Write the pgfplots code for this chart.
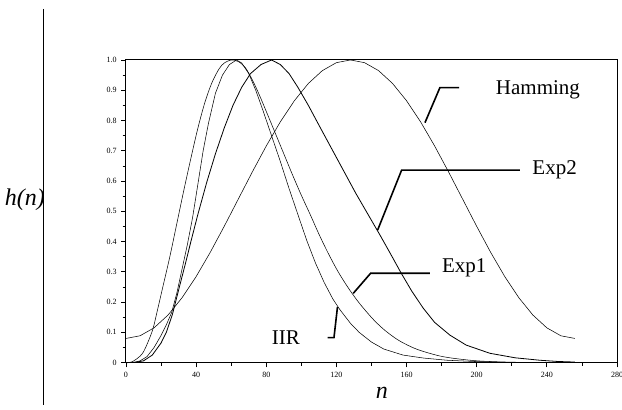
\documentclass[border=0pt]{standalone}
\usepackage{fontspec}
\setmainfont{Liberation Serif}
\usepackage{pgfplots}
\pgfplotsset{compat=1.18}
\begin{document}
\begin{tikzpicture}
\begin{axis}[
  scale only axis, width=368.25pt, height=227pt,
  xmin=0, xmax=280, ymin=0, ymax=1,
  xtick={0,40,80,120,160,200,240,280}, minor x tick num=1,
  ytick={0,0.1,0.2,0.3,0.4,0.5,0.6,0.7,0.8,0.9,1},
  yticklabels={0,0.1,0.2,0.3,0.4,0.5,0.6,0.7,0.8,0.9,1.0},
  minor y tick num=1,
  tick align=outside, xtick pos=left, ytick pos=left,
  major tick length=3.5pt, minor tick length=2.5pt,
  tick style={black, line width=0.6pt},
  ticklabel style={font=\fontsize{6}{7}\selectfont},
  /pgf/number format/assume math mode=true,
  axis line style={line width=0.75pt},
  clip=false,
  cycle list={{black, line width=0.6pt, smooth, no markers}},
]
% Hamming
\addplot coordinates {(0,0.08) (8,0.0888) (16,0.1150) (24,0.1575) (32,0.2147) (40,0.2844) (48,0.3640) (56,0.4503) (64,0.54) (72,0.6297) (80,0.7160) (88,0.7956) (96,0.8653) (104,0.9225) (112,0.9650) (120,0.9912) (128,1.0) (136,0.9912) (144,0.9650) (152,0.9225) (160,0.8653) (168,0.7956) (176,0.7160) (184,0.6297) (192,0.54) (200,0.4503) (208,0.3640) (216,0.2844) (224,0.2147) (232,0.1575) (240,0.1150) (248,0.0888) (256,0.08)};
% Exp2
\addplot coordinates {(0,0) (5,0.001) (10,0.006) (15,0.025) (20,0.065) (23,0.10) (26.5,0.16) (30,0.24) (34,0.33) (37,0.40) (41,0.49) (46,0.595) (51,0.69) (56,0.775) (61,0.85) (66,0.91) (71,0.955) (77,0.985) (83,1.0) (88,0.985) (93,0.955) (98,0.91) (104,0.85) (110,0.785) (117,0.71) (124,0.635) (131,0.56) (138,0.49) (145,0.42) (151,0.358) (157,0.295) (163,0.236) (169.5,0.18) (176,0.133) (184.7,0.091) (194,0.058) (207.5,0.031) (222,0.016) (236,0.008) (246,0.004) (256,0.002)};
% Exp1
\addplot coordinates {(0,0) (3,0.002) (6,0.012) (10,0.036) (15,0.105) (18,0.175) (21,0.25) (25,0.35) (29,0.46) (33,0.57) (37,0.675) (41,0.775) (45,0.86) (49,0.925) (53,0.97) (56,0.99) (60,1.0) (64,0.995) (68,0.975) (72,0.935) (76,0.885) (80,0.83) (85,0.76) (90,0.69) (95,0.62) (100,0.553) (105,0.49) (110,0.425) (115,0.365) (121,0.30) (127,0.245) (133,0.197) (141,0.143) (148,0.105) (156,0.072) (166,0.044) (179,0.022) (190,0.012) (203,0.005) (225,0.001) (256,0)};
% IIR
\addplot coordinates {(0,0) (4,0) (8,0.006) (12,0.02) (16,0.05) (20,0.09) (23,0.125) (26,0.165) (29,0.23) (32,0.31) (35,0.39) (38,0.48) (41,0.59) (44,0.70) (47,0.79) (51,0.89) (55,0.95) (59,0.985) (63,1.0) (66,0.99) (70,0.955) (74,0.90) (78,0.835) (83,0.75) (88,0.665) (93,0.575) (98,0.49) (103,0.405) (108,0.33) (113,0.265) (118,0.21) (122,0.175) (128,0.13) (133,0.10) (140,0.068) (147,0.045) (158,0.025) (170,0.015) (183,0.008) (198,0.004) (215,0.001) (240,0) (256,0)};
% pointers and labels
\draw[line width=1.2pt] (axis cs:190,0.9085) -- (axis cs:179,0.9085) -- (axis cs:170.5,0.793);
\draw[line width=1.2pt] (axis cs:224.6,0.6363) -- (axis cs:157.2,0.6363) -- (axis cs:143.5,0.438);
\draw[line width=1.2pt] (axis cs:173.3,0.2953) -- (axis cs:139.5,0.2953) -- (axis cs:129.6,0.229);
\draw[line width=1.2pt] (axis cs:115,0.0826) -- (axis cs:118.6,0.0826) -- (axis cs:120.6,0.184);
\node[font=\fontsize{15.75}{18}\selectfont] at (rel axis cs:0.839,0.903) {Hamming};
\node[font=\fontsize{15.75}{18}\selectfont] at (rel axis cs:0.873,0.6366) {Exp2};
\node[font=\fontsize{15.75}{18}\selectfont] at (rel axis cs:0.6888,0.3119) {Exp1};
\node[font=\fontsize{15.75}{18}\selectfont] at (rel axis cs:0.3255,0.0839) {IIR};
\node[font=\fontsize{18}{20}\selectfont\itshape] at (rel axis cs:-0.2057,0.5375) {h(n)};
\node[font=\fontsize{18}{20}\selectfont\itshape] at (rel axis cs:0.521,-0.10) {n};
\draw[line width=0.75pt] (rel axis cs:-0.167,1.1685) -- (rel axis cs:-0.167,-0.1397);
\coordinate (bl) at (rel axis cs:-0.2566,-0.1563);
\coordinate (tr) at (rel axis cs:1.0102,1.1982);
\end{axis}
\pgfresetboundingbox
\path[use as bounding box] (bl) rectangle (tr);
\end{tikzpicture}
\end{document}
